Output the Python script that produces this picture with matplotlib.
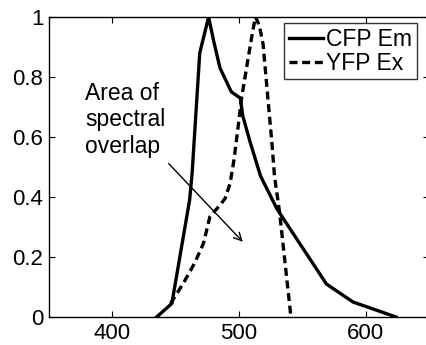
import matplotlib
matplotlib.use('Agg')
import matplotlib.pyplot as plt

plt.rcParams['font.family'] = ['Liberation Sans', 'DejaVu Sans']

# spectra
cfp_wl = [435, 447, 461, 463, 469, 476, 480, 485, 494, 501, 503, 509, 517, 530, 569, 590, 624]
cfp_em = [0, 0.045, 0.39, 0.48, 0.88, 1.0, 0.92, 0.83, 0.75, 0.73, 0.67, 0.58, 0.47, 0.36, 0.11, 0.05, 0]

yfp_wl = [446, 456, 465, 472, 477, 485, 489, 493, 496, 499, 502, 507, 511, 513, 516, 519, 523, 526, 528, 532, 541]
yfp_ex = [0.045, 0.112, 0.18, 0.246, 0.334, 0.373, 0.395, 0.446, 0.523, 0.623, 0.729, 0.857, 0.957, 1.0,
          0.973, 0.91, 0.72, 0.58, 0.47, 0.35, 0]

xticks = [400, 500, 600]
yticks = [0, 0.2, 0.4, 0.6, 0.8, 1]
ytick_labels = ['0', '0.2', '0.4', '0.6', '0.8', '1']

fig = plt.figure(figsize=(4.26, 3.45), dpi=100)
# right spine sits just past the image edge, as in the original
ax = fig.add_axes([49 / 426, 28 / 345, 380 / 426, 300 / 345])

ax.plot(cfp_wl, cfp_em, color='k', lw=2.4, label='CFP Em')
ax.plot(yfp_wl, yfp_ex, color='k', lw=2.4, linestyle=(0, (2.4, 1.4)), label='YFP Ex')

ax.set_xlim(350, 650)
ax.set_ylim(0, 1)
ax.set_xticks(xticks)
ax.set_yticks(yticks)
ax.set_yticklabels(ytick_labels)
ax.tick_params(direction='in', length=4, width=0.8, top=True, right=True, labelsize=16, pad=4)
for s in ax.spines.values():
    s.set_linewidth(1.0)

ax.text(378.4, 0.785, 'Area of\nspectral\noverlap', fontsize=16.5, ha='left', va='top', linespacing=1.22)
ax.annotate('', xy=(504.5, 0.244), xytext=(443, 0.518),
            arrowprops=dict(arrowstyle='->', color='k', lw=1.0, mutation_scale=14))

leg = ax.legend(loc='upper right', bbox_to_anchor=(417 / 426, 1 - 23 / 345),
                bbox_transform=fig.transFigure, fontsize=16.5, frameon=True, fancybox=False,
                handlelength=1.5, handletextpad=0.14, borderpad=0.2, labelspacing=0.05,
                borderaxespad=0)
leg.get_frame().set_edgecolor('k')
leg.get_frame().set_linewidth(1.0)

fig.savefig('out.png', dpi=100)
